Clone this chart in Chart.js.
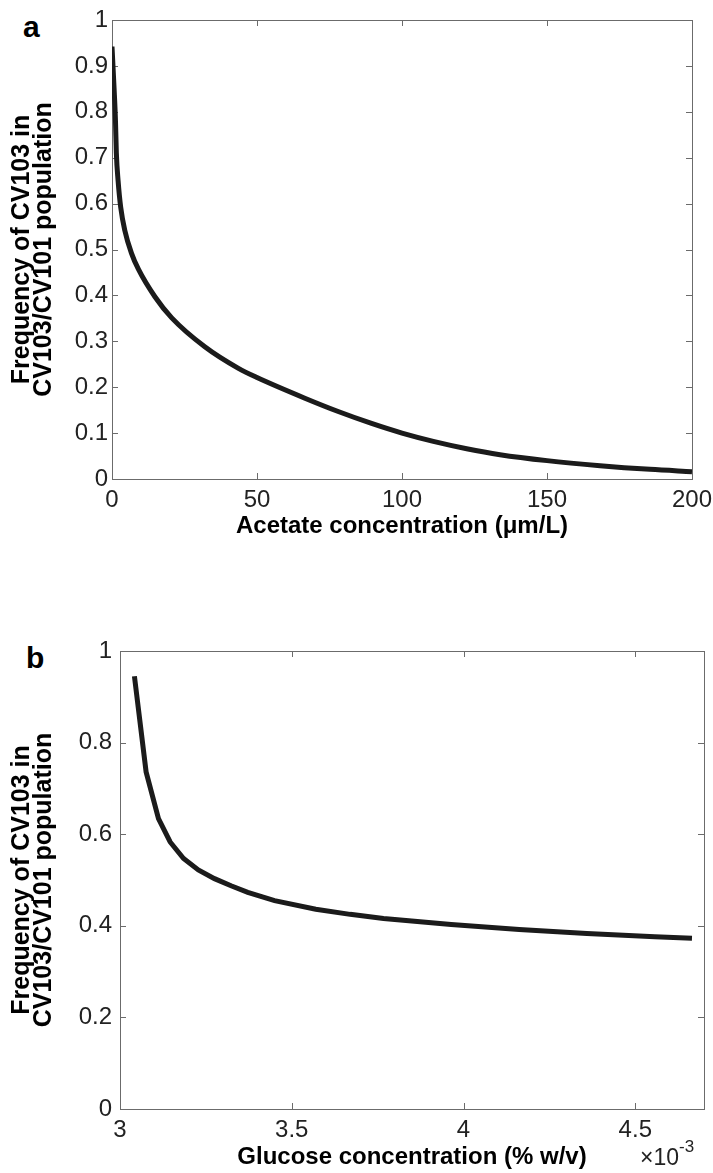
<!DOCTYPE html>
<html>
<head>
<meta charset="utf-8">
<script src="https://cdn.jsdelivr.net/npm/chart.js@4"></script>
<style>
  html, body { margin: 0; padding: 0; background: #fff; }
  #wrap { position: relative; width: 713px; height: 1173px; overflow: hidden; }
  canvas { position: absolute; left: 0; }
  .panel { position: absolute; font: bold 30px "Liberation Sans", Arial, sans-serif; color: #000; }
  #expo { position: absolute; left: 640px; top: 1141px; font: 23px "Liberation Sans", Arial, sans-serif; color: #222; }
  #expo sup { font-size: 17px; position: relative; top: -4px; }
</style>
</head>
<body>
<div id="wrap">
  <div class="panel" style="left:23px;top:10px">a</div>
  <div class="panel" style="left:26px;top:641px">b</div>
  <canvas id="chartA" width="713" height="560" style="top:0"></canvas>
  <canvas id="chartB" width="713" height="613" style="top:560px"></canvas>
  <div id="expo">×10<sup>-3</sup></div>
</div>
<script>
// panel a: acetate (µm/L) vs frequency of CV103
const acetateConc = [0, 0.7, 1.2, 1.5, 2.1, 3, 4.4, 6.7, 9.1, 14.8, 20.6, 32, 43.6, 50,
  66.5, 78, 89.5, 100, 110.8, 122.3, 133.8, 150, 168.3, 185.5, 200];
const acetateFreq = [0.942, 0.853, 0.78, 0.71, 0.65, 0.592, 0.542, 0.492, 0.457, 0.397, 0.351, 0.288, 0.241, 0.221,
  0.176, 0.147, 0.121, 0.100, 0.082, 0.066, 0.053, 0.040, 0.029, 0.021, 0.016];

// panel b: glucose (x10^-3 % w/v) vs frequency of CV103
const glucoseConc = [3.042, 3.076, 3.112, 3.146, 3.185, 3.228, 3.275, 3.325, 3.372, 3.45,
  3.57, 3.67, 3.767, 3.964, 4.162, 4.359, 4.557, 4.665];
const glucoseFreq = [0.945, 0.736, 0.634, 0.583, 0.547, 0.522, 0.503, 0.487, 0.473, 0.455,
  0.436, 0.425, 0.416, 0.403, 0.392, 0.383, 0.376, 0.373];

const xTicksA = [0, 50, 100, 150, 200];
const yTicksA = [0, 0.1, 0.2, 0.3, 0.4, 0.5, 0.6, 0.7, 0.8, 0.9, 1];
const xTicksB = [3, 3.5, 4, 4.5];
const yTicksB = [0, 0.2, 0.4, 0.6, 0.8, 1];

const yTitle = ['Frequency of CV103 in', 'CV103/CV101 population'];
const FONT = '"Liberation Sans", Arial, Helvetica, sans-serif';

// matlab style box with inward ticks on all four sides
const frameTicks = {
  id: 'frameTicks',
  beforeDatasetsDraw(chart) {
    const { ctx, chartArea: a, scales: { x, y } } = chart;
    const len = 6;
    ctx.save();
    ctx.strokeStyle = '#6b6b6b';
    ctx.lineWidth = 1;
    ctx.strokeRect(Math.round(a.left) + 0.5, Math.round(a.top) + 0.5,
      Math.round(a.right - a.left), Math.round(a.bottom - a.top));
    ctx.beginPath();
    x.ticks.forEach(t => {
      const px = Math.round(x.getPixelForValue(t.value)) + 0.5;
      ctx.moveTo(px, a.bottom); ctx.lineTo(px, a.bottom - len);
      ctx.moveTo(px, a.top); ctx.lineTo(px, a.top + len);
    });
    y.ticks.forEach(t => {
      const py = Math.round(y.getPixelForValue(t.value)) + 0.5;
      ctx.moveTo(a.left, py); ctx.lineTo(a.left + len, py);
      ctx.moveTo(a.right, py); ctx.lineTo(a.right - len, py);
    });
    ctx.stroke();
    ctx.restore();
  }
};

function makeChart(id, cfg) {
  return new Chart(document.getElementById(id), {
    type: 'line',
    data: {
      datasets: [{
        data: cfg.xs.map((v, i) => ({ x: v, y: cfg.ys[i] })),
        borderColor: '#1b1b1b',
        borderWidth: 5,
        borderCapStyle: 'butt',
        pointRadius: 0,
        tension: 0,
        cubicInterpolationMode: cfg.smooth ? 'monotone' : 'default',
        fill: false
      }]
    },
    options: {
      responsive: false,
      animation: false,
      devicePixelRatio: 1,
      layout: { padding: { top: cfg.top, right: cfg.right, left: 0, bottom: 0 } },
      plugins: { legend: { display: false }, tooltip: { enabled: false } },
      scales: {
        x: {
          type: 'linear',
          min: cfg.xMin, max: cfg.xMax,
          grid: { display: false, drawTicks: false },
          border: { display: false },
          afterBuildTicks: s => { s.ticks = cfg.xTicks.map(v => ({ value: v })); },
          afterFit: s => { s.height = cfg.xHeight; s.paddingLeft = 0; s.paddingRight = 0; },
          ticks: {
            maxRotation: 0, autoSkip: false, padding: 7,
            color: '#222', font: { family: FONT, size: 24 },
            callback: v => String(v)
          },
          title: {
            display: true, text: cfg.xTitle, color: '#000',
            font: { family: FONT, size: 24, weight: 'bold', lineHeight: 1.2 },
            padding: { top: 0, bottom: cfg.xTitlePad }
          }
        },
        y: {
          type: 'linear',
          min: 0, max: 1,
          grid: { display: false, drawTicks: false },
          border: { display: false },
          afterBuildTicks: s => { s.ticks = cfg.yTicks.map(v => ({ value: v })); },
          afterFit: s => { s.width = cfg.yWidth; s.paddingTop = 0; s.paddingBottom = 0; },
          ticks: {
            padding: cfg.yPad,
            color: '#222', font: { family: FONT, size: 24 },
            callback: v => String(v)
          },
          title: {
            display: true, text: yTitle, color: '#000',
            font: { family: FONT, size: 25, weight: 'bold', lineHeight: 0.88 },
            padding: { top: 11, bottom: 0 }
          }
        }
      }
    },
    plugins: [frameTicks]
  });
}

makeChart('chartA', {
  xs: acetateConc, ys: acetateFreq, smooth: true,
  xMin: 0, xMax: 200, xTicks: xTicksA, yTicks: yTicksA,
  top: 20, right: 21, yWidth: 112, xHeight: 81, yPad: 4,
  xTitle: 'Acetate concentration (μm/L)', xTitlePad: 19
});

makeChart('chartB', {
  xs: glucoseConc, ys: glucoseFreq, smooth: false,
  xMin: 3, xMax: 4.7, xTicks: xTicksB, yTicks: yTicksB,
  top: 91, right: 9, yWidth: 120, xHeight: 64, yPad: 8,
  xTitle: 'Glucose concentration (% w/v)', xTitlePad: 1
});
</script>
</body>
</html>
